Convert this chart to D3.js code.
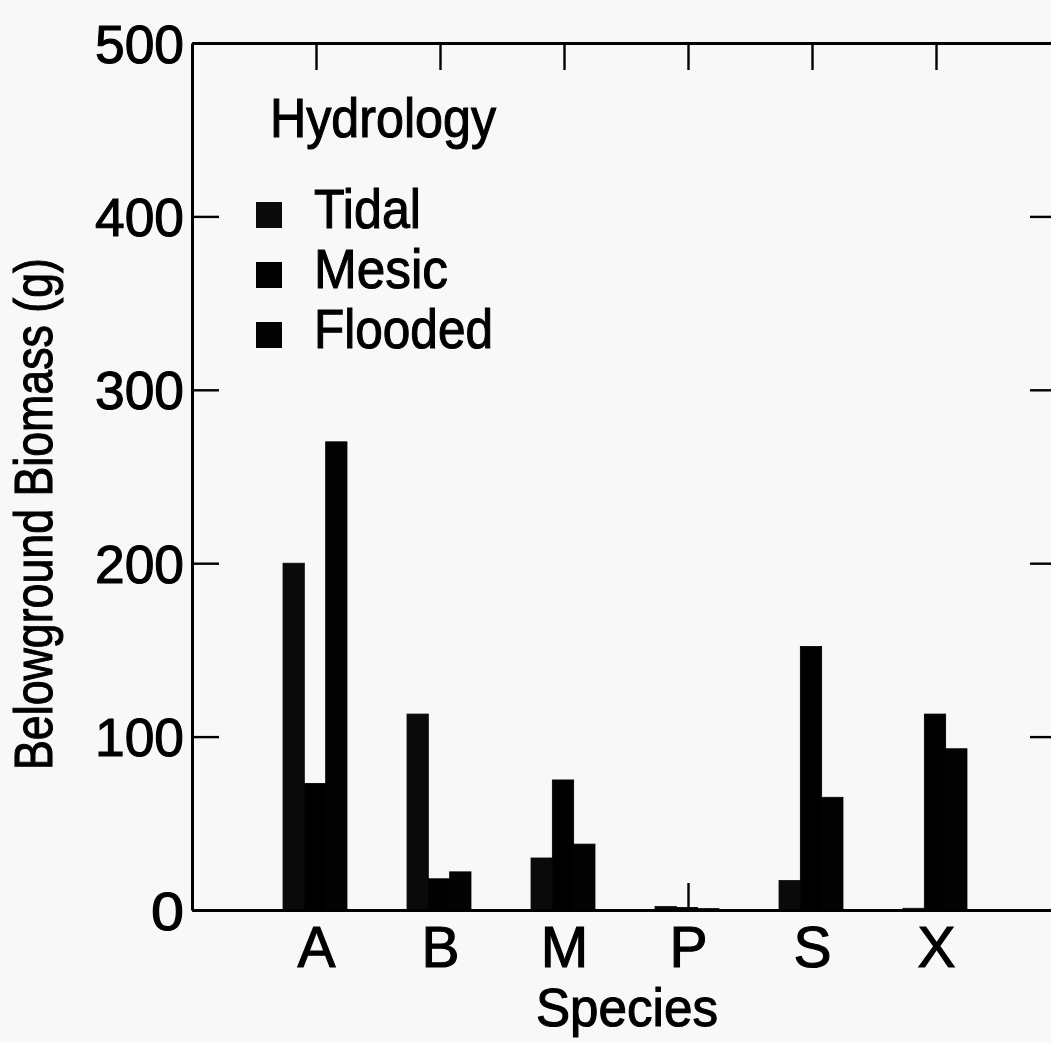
<!DOCTYPE html>
<html>
<head>
<meta charset="utf-8">
<script src="https://cdn.jsdelivr.net/npm/d3@7"></script>
<style>
  html, body { margin: 0; padding: 0; background: #f8f8f8; }
  svg { display: block; font-family: "Liberation Sans", Arial, sans-serif; }
  svg text { fill: #000; stroke: #000; stroke-width: 1.1px; }
</style>
</head>
<body>
<svg id="chart" width="1051" height="1042"></svg>
<script>
// Belowground biomass by species under three hydrology treatments
const species = ["A", "B", "M", "P", "S", "X"];
const hydrology = ["Tidal", "Mesic", "Flooded"];
const tidal   = [200, 113, 30, 2, 17, 1];
const mesic   = [73, 18, 75, 1.5, 152, 113];
const flooded = [270, 22, 38, 0.8, 65, 93];
const yTicks  = [0, 100, 200, 300, 400, 500];

const seriesValues = [tidal, mesic, flooded];
const barColors = ["#0a0a0a", "#000000", "#030303"];

const svg = d3.select("#chart");
const W = 1051, H = 1042;
const plotLeft = 192, plotRight = 1060, plotTop = 43, plotBottom = 910;

svg.append("rect").attr("width", W).attr("height", H).attr("fill", "#f8f8f8");

const x = d3.scaleLinear().domain([0, species.length + 1]).range([plotLeft, plotRight]);
const y = d3.scaleLinear().domain([0, 500]).range([plotBottom, plotTop]);

// Three bars per species, grouped around the category tick
const inner = d3.scaleBand().domain(hydrology).range([-33, 31]).padding(0);

const rows = [];
species.forEach((s, i) => {
  hydrology.forEach((h, k) => {
    rows.push({ s, i, h, k, v: seriesValues[k][i] });
  });
});

svg.append("g")
  .selectAll("rect")
  .data(rows)
  .join("rect")
  .attr("x", d => x(d.i + 1) + inner(d.h))
  .attr("width", inner.bandwidth())
  .attr("y", d => y(d.v))
  .attr("height", d => y(0) - y(d.v))
  .attr("fill", d => barColors[d.k])
  .attr("stroke", d => barColors[d.k])
  .attr("stroke-width", 0.8);

// Frame with inward ticks on all four sides
const axisStyle = g => {
  g.select(".domain").attr("stroke", "#000").attr("stroke-width", 3);
  g.selectAll(".tick line").attr("stroke", "#000").attr("stroke-width", 2.4);
};

svg.append("g")
  .attr("transform", `translate(${plotLeft},0)`)
  .call(d3.axisLeft(y).tickValues(yTicks).tickSize(-27).tickSizeOuter(0).tickPadding(8))
  .call(axisStyle)
  .call(g => g.selectAll(".tick text")
    .attr("font-size", 53)
    .attr("dy", "0.36em")
    .attr("textLength", d => d === 0 ? 33 : 89)
    .attr("lengthAdjust", "spacingAndGlyphs"));

svg.append("g")
  .attr("transform", `translate(${plotRight},0)`)
  .call(d3.axisRight(y).tickValues(yTicks).tickSize(-30).tickSizeOuter(0).tickFormat(""))
  .call(axisStyle);

svg.append("g")
  .attr("transform", `translate(0,${plotTop})`)
  .call(d3.axisTop(x).tickValues(d3.range(1, species.length + 1)).tickSize(-27).tickSizeOuter(0).tickFormat(""))
  .call(axisStyle);

svg.append("g")
  .attr("transform", `translate(0,${plotBottom})`)
  .call(d3.axisBottom(x).tickValues(d3.range(1, species.length + 1))
    .tickSize(-27).tickSizeOuter(0).tickFormat(i => species[i - 1]))
  .call(axisStyle)
  .call(g => g.selectAll(".tick text")
    .attr("font-size", 57)
    .attr("dy", null)
    .attr("y", 57));

// Axis titles
svg.append("text")
  .attr("x", 627).attr("y", 1026)
  .attr("text-anchor", "middle")
  .attr("font-size", 53)
  .attr("textLength", 182).attr("lengthAdjust", "spacingAndGlyphs")
  .text("Species");

svg.append("text")
  .attr("transform", "translate(52,514) rotate(-90)")
  .attr("text-anchor", "middle")
  .attr("font-size", 53)
  .attr("textLength", 512).attr("lengthAdjust", "spacingAndGlyphs")
  .text("Belowground Biomass (g)");

// Legend
const legend = svg.append("g");
legend.append("text")
  .attr("x", 270).attr("y", 137)
  .attr("font-size", 55)
  .attr("textLength", 226).attr("lengthAdjust", "spacingAndGlyphs")
  .text("Hydrology");

const legendWidths = [107, 134, 179];
const legendRows = legend.selectAll("g.item")
  .data(hydrology)
  .join("g")
  .attr("class", "item")
  .attr("transform", (d, k) => `translate(0,${228 + k * 60})`);

legendRows.append("rect")
  .attr("x", 256).attr("y", -26)
  .attr("width", 26).attr("height", 26)
  .attr("fill", (d, k) => barColors[k]);

legendRows.append("text")
  .attr("x", 314).attr("y", 0)
  .attr("font-size", 56)
  .attr("textLength", (d, k) => legendWidths[k]).attr("lengthAdjust", "spacingAndGlyphs")
  .text(d => d);
</script>
</body>
</html>
